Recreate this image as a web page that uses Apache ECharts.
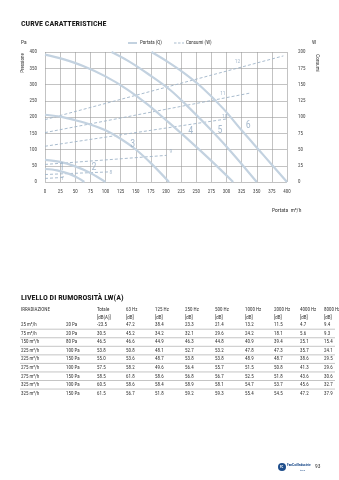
<!DOCTYPE html>
<html><head><meta charset="utf-8">
<script src="https://cdn.jsdelivr.net/npm/echarts@6/dist/echarts.min.js"></script>
<style>html,body{margin:0;padding:0;background:#fff}#c{width:339px;height:480px}</style>
</head><body><div id="c"></div>
<script>
// Pressure curves (Portata Q) – [flow m3/h, Pa]
const curve1 = [[0,40],[20,36],[40,25],[55,12],[65,0]];
const curve2 = [[0,68],[25,62],[50,48],[75,28],[100,0]];
const curve3 = [[0,207],[25,201],[50,190],[75,177],[100,159],[125,133],[150,100],[175,58],[205,0]];
const curve4 = [[0,392],[30,378],[63,357],[100,325],[135,286],[170,238],[204,184],[240,125],[275,65],[311,0]];
const curve5 = [[110,400],[138,372],[170,333],[207,283],[240,225],[275,159],[310,88],[350,0]];
const curve6 = [[176,400],[201,372],[230,335],[260,290],[295,225],[325,159],[360,85],[400,0]];
// Consumption lines (Consumi W) – [flow m3/h, W]
const cons7 = [[0,5.5],[30,7]];
const cons8 = [[0,11.5],[105,15.5]];
const cons9 = [[0,27],[201,41]];
const cons10 = [[0,55],[300,97]];
const cons11 = [[0,76],[340,137]];
const cons12 = [[0,96],[394,194]];
const curveLabels = [[28,45,'1'],[81,45,'2'],[145,116,'3'],[241,154,'4'],[289,157,'5'],[336,174,'6']];
const consLabels = [[29,5.6,'7'],[109,15,'8'],[208,46,'9'],[297,101,'10'],[294,136,'11'],[318,185,'12']];
const legendNames = ['Portata (Q)','Consumi (W)'];

// Noise table
const tableHeaders = ['Totale','63 Hz','125 Hz','250 Hz','500 Hz','1000 Hz','2000 Hz','4000 Hz','8000 Hz'];
const tableUnits = ['[dB(A)]','[dB]','[dB]','[dB]','[dB]','[dB]','[dB]','[dB]','[dB]'];
const rowFlow = ['25 m³/h','75 m³/h','150 m³/h','225 m³/h','225 m³/h','275 m³/h','275 m³/h','325 m³/h','325 m³/h'];
const rowPressure = ['20 Pa','20 Pa','80 Pa','100 Pa','150 Pa','100 Pa','150 Pa','100 Pa','150 Pa'];
const rowValues = [
 ['-23.5','47.2','38.4','23.3','21.4','13.2','11.5','4.7','9.4'],
 ['30.5','45.2','34.2','32.1','29.6','24.2','18.1','5.6','9.3'],
 ['46.5','46.6','44.9','46.3','44.8','40.9','39.4','25.1','15.4'],
 ['53.8','50.8','48.1','52.7','53.2','47.8','47.3','35.7','24.1'],
 ['55.0','53.6','48.7','53.8','53.8','48.9','48.7','38.6','29.5'],
 ['57.5','58.2','49.6','56.4','55.7','51.5','50.8','41.3','29.6'],
 ['58.5','61.8','58.6','56.8','56.7','52.5','51.8','43.6','30.6'],
 ['60.5','58.6','58.4','58.9','58.1','54.7','53.7','45.6','32.7'],
 ['61.5','56.7','51.8','59.2','59.3','55.4','54.5','47.2','37.9']
];

const FONT = '"Roboto Condensed","Liberation Sans Narrow","DejaVu Sans Condensed",Roboto,sans-serif';
const solidColor = '#c3d2e0';
const dashColor = '#9fb4c8';
const labelColor = '#93abc3';

const chart = echarts.init(document.getElementById('c'), null, {renderer:'canvas'});
const solidSeries = [curve1,curve2,curve3,curve4,curve5,curve6].map(d => ({
  name:legendNames[0], type:'line', data:d, smooth:0.35, symbol:'none', showSymbol:false,
  lineStyle:{color:solidColor, width:2.2}, itemStyle:{color:solidColor}, silent:true, z:3
}));
const dashSeries = [cons7,cons8,cons9,cons10,cons11,cons12].map(d => ({
  name:legendNames[1], type:'line', yAxisIndex:1, data:d, symbol:'none', showSymbol:false,
  lineStyle:{color:dashColor, width:0.9, type:[3,2]}, itemStyle:{color:dashColor}, silent:true, z:2
}));

const colX = [97,126,155,185,215,245,274,300,324];
const rowY0 = 325, rowStep = 8.55;
const g = [];
function txt(x,y,t,o){ g.push(Object.assign({type:'text',x:x,y:y,silent:true,style:Object.assign({text:t,fontFamily:FONT,fontSize:5,fill:'#333',verticalAlign:'middle',align:'left'},o||{})})); }
txt(21,24,'CURVE CARATTERISTICHE',{fontSize:8,fontWeight:'bold',fill:'#1a1a1a'});
txt(21,43,'Pa',{fontSize:5.5});
txt(312,43,'W',{fontSize:5.5});
// legend
g.push({type:'line',silent:true,shape:{x1:128,y1:43,x2:137,y2:43},style:{stroke:solidColor,lineWidth:2}});
txt(140,43,legendNames[0]);
g.push({type:'line',silent:true,shape:{x1:174,y1:43,x2:184,y2:43},style:{stroke:dashColor,lineWidth:0.9,lineDash:[2.5,1.5]}});
txt(186,43,legendNames[1]);
g.push({type:'text',x:23,y:63,rotation:Math.PI/2,silent:true,style:{text:'Pressione',fontFamily:FONT,fontSize:5,fill:'#333',align:'center',verticalAlign:'middle'}});
g.push({type:'text',x:317,y:63,rotation:-Math.PI/2,silent:true,style:{text:'Consumi',fontFamily:FONT,fontSize:5,fill:'#333',align:'center',verticalAlign:'middle'}});
txt(272,211,'Portata  m³/h',{fontSize:5.5});
txt(21,298,'LIVELLO DI RUMOROSITÀ LW(A)',{fontSize:8,fontWeight:'bold',fill:'#1a1a1a'});
txt(21,310,'IRRADIAZIONE');
tableHeaders.forEach((h,i)=>txt(colX[i],310,h));
tableUnits.forEach((h,i)=>txt(colX[i],317.5,h));
rowFlow.forEach((f,r)=>{
  const y = rowY0 + r*rowStep;
  txt(21,y,f); txt(66,y,rowPressure[r]);
  rowValues[r].forEach((v,i)=>txt(colX[i],y,v));
  if (r < rowFlow.length-1) g.push({type:'line',silent:true,shape:{x1:20,y1:y+4.2,x2:335,y2:y+4.2},style:{stroke:'#8a8a8a',lineWidth:0.5}});
});
g.push({type:'circle',shape:{cx:282,cy:467,r:4},style:{fill:'#1f4e8c'},silent:true});
txt(280,467,'FC',{fontSize:3,fill:'#fff',fontWeight:'bold'});
txt(287,465.5,'FanCoilIndustrie',{fontSize:3.6,fill:'#1f4e8c',fontWeight:'bold'});
txt(300,470,'italia',{fontSize:2.5,fill:'#1f4e8c'});
txt(315,467,'93',{fontSize:5.5,fill:'#333'});

chart.setOption({
  animation:false,
  textStyle:{fontFamily:FONT},
  grid:{left:45,right:52,top:52,bottom:298},
  xAxis:{type:'value',min:0,max:400,interval:25,
    axisLine:{show:false},axisTick:{show:false},
    axisLabel:{fontSize:5,color:'#444',margin:7,fontFamily:FONT},
    splitLine:{show:true,lineStyle:{color:'#9a9a9a',width:0.6}}},
  yAxis:[
    {type:'value',min:0,max:400,interval:50,axisLine:{show:false},axisTick:{show:false},
     axisLabel:{fontSize:5,color:'#444',margin:8,fontFamily:FONT},
     splitLine:{show:true,lineStyle:{color:'#9a9a9a',width:0.6}}},
    {type:'value',min:0,max:200,interval:25,position:'right',axisLine:{show:false},axisTick:{show:false},
     axisLabel:{fontSize:5,color:'#444',margin:11,fontFamily:FONT},splitLine:{show:false}}
  ],
  graphic:g,
  series:[...solidSeries,...dashSeries,
    {type:'scatter',name:'lbl1',data:curveLabels.map(d=>({value:[d[0],d[1]],name:d[2]})),symbolSize:0,silent:true,z:5,
     label:{show:true,position:'inside',formatter:p=>p.name,fontSize:10,color:labelColor,fontFamily:FONT}},
    {type:'scatter',name:'lbl2',yAxisIndex:1,data:consLabels.map(d=>({value:[d[0],d[1]],name:d[2]})),symbolSize:0,silent:true,z:5,
     label:{show:true,position:'inside',formatter:p=>p.name,fontSize:5.5,color:labelColor,fontFamily:FONT}}
  ]
});
</script></body></html>
